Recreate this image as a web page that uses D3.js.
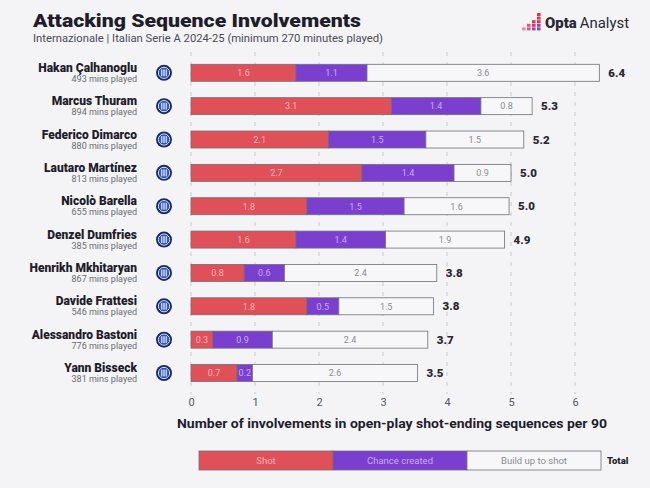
<!DOCTYPE html>
<html>
<head>
<meta charset="utf-8">
<script src="https://cdn.jsdelivr.net/npm/d3@7"></script>
<style>
  body { margin: 0; background: #f4f4f6; }
  svg { display: block; }
</style>
</head>
<body>
<svg id="chart" width="650" height="488"></svg>
<script>
// data
var players = ["Hakan Çalhanoglu", "Marcus Thuram", "Federico Dimarco", "Lautaro Martínez", "Nicolò Barella",
  "Denzel Dumfries", "Henrikh Mkhitaryan", "Davide Frattesi", "Alessandro Bastoni", "Yann Bisseck"];
var minutes = [493, 894, 880, 813, 655, 385, 867, 546, 776, 381];
var shot = [1.64, 3.13, 2.15, 2.67, 1.81, 1.64, 0.83, 1.81, 0.34, 0.72];
var chance = [1.11, 1.40, 1.52, 1.44, 1.52, 1.40, 0.63, 0.50, 0.93, 0.24];
var buildup = [3.63, 0.80, 1.53, 0.89, 1.64, 1.86, 2.38, 1.48, 2.43, 2.58];
var ticks = [0, 1, 2, 3, 4, 5, 6];
var legendLabels = ["Shot", "Chance created", "Build up to shot"];

var colors = { shot: "#e05059", chance: "#7a3fcf", build: "#f7f7f9" };
var textColors = { shot: "#f6b3b8", chance: "#c7adf0", build: "#8a8a92" };
var keys = ["shot", "chance", "build"];

var svg = d3.select("#chart");
var font = "Roboto, 'Noto Sans', sans-serif";

var x = d3.scaleLinear().domain([0, 6]).range([191, 575]);
var y = d3.scalePoint().domain(players).range([72.8, 373]);
var barH = 17;

var rows = players.map(function(p, i) {
  return { name: p, mins: minutes[i], shot: shot[i], chance: chance[i], build: buildup[i] };
});
var stacked = d3.stack().keys(keys)(rows);

// title
svg.append("text").attr("x", 33).attr("y", 26.5)
  .attr("font-family", font).attr("font-weight", 900).attr("font-size", 18.5)
  .attr("fill", "#1f1d2b").attr("textLength", 328).attr("lengthAdjust", "spacingAndGlyphs")
  .text("Attacking Sequence Involvements");
svg.append("text").attr("x", 33).attr("y", 41.5)
  .attr("font-family", font).attr("font-size", 11)
  .attr("fill", "#4a4a55").attr("textLength", 350).attr("lengthAdjust", "spacingAndGlyphs")
  .text("Internazionale | Italian Serie A 2024-25 (minimum 270 minutes played)");

// opta logo
var logo = svg.append("g").attr("transform", "translate(522,13)");
var pix = [[3, 0, "#e8334a"], [3, 1, "#e8334a"], [2, 2, "#e8334a"], [3, 2, "#d9346a"],
  [1, 3, "#e85a6a"], [2, 3, "#c83a85"], [3, 3, "#b03c9c"], [0, 4, "#f08a95"], [1, 4, "#d05a90"],
  [2, 4, "#a04ab0"], [3, 4, "#8a45c0"]];
pix.forEach(function(p) {
  logo.append("rect").attr("x", p[0] * 5).attr("y", p[1] * 3.6).attr("width", 3.6).attr("height", 3).attr("fill", p[2]);
});
svg.append("text").attr("x", 545).attr("y", 28).attr("font-family", font).attr("font-size", 14.5)
  .attr("fill", "#2a2833").attr("textLength", 84).attr("lengthAdjust", "spacingAndGlyphs")
  .call(function(t) {
    t.append("tspan").attr("font-weight", 900).text("Opta");
    t.append("tspan").attr("font-weight", 400).attr("dx", 3).text("Analyst");
  });

// gridlines
svg.append("g").selectAll("line").data(ticks).join("line")
  .attr("x1", function(d) { return x(d); }).attr("x2", function(d) { return x(d); })
  .attr("y1", 52).attr("y2", 394)
  .attr("stroke", "#c9c9cf").attr("stroke-width", 1).attr("stroke-dasharray", "4,6");

// x axis
var axis = svg.append("g").attr("transform", "translate(0,394)")
  .call(d3.axisBottom(x).tickValues(ticks).tickSize(0).tickPadding(4).tickFormat(d3.format("d")));
axis.select(".domain").remove();
axis.selectAll("text").attr("font-family", font).attr("font-size", 11).attr("fill", "#55555e");

svg.append("text").attr("x", 392).attr("y", 428).attr("text-anchor", "middle")
  .attr("font-family", font).attr("font-weight", 700).attr("font-size", 13)
  .attr("fill", "#1f1d2b").attr("textLength", 430).attr("lengthAdjust", "spacingAndGlyphs")
  .text("Number of involvements in open-play shot-ending sequences per 90");

// player labels
var lab = svg.append("g").selectAll("g").data(rows).join("g")
  .attr("transform", function(d) { return "translate(0," + y(d.name) + ")"; });
lab.append("text").attr("x", 137).attr("y", -1).attr("text-anchor", "end")
  .attr("font-family", font).attr("font-weight", 900).attr("font-size", 12).attr("fill", "#1f1d2b")
  .text(function(d) { return d.name; });
lab.append("text").attr("x", 137).attr("y", 9).attr("text-anchor", "end")
  .attr("font-family", font).attr("font-size", 9).attr("fill", "#6a6a72")
  .text(function(d) { return d.mins + " mins played"; });

// club badge
var badge = lab.append("g").attr("transform", "translate(164,0)");
badge.append("circle").attr("r", 8).attr("fill", "#1a2a6c");
badge.append("circle").attr("r", 5.6).attr("fill", "none").attr("stroke", "#ffffff").attr("stroke-width", 0.9);
badge.append("circle").attr("r", 4.8).attr("fill", "#2f5bd0");
[-2.4, -0.8, 0.8, 2.4].forEach(function(dx) {
  badge.append("line").attr("x1", dx).attr("x2", dx).attr("y1", -3.4).attr("y2", 3.4)
    .attr("stroke", "#ffffff").attr("stroke-width", 0.8);
});

// bars
var seg = svg.append("g").selectAll("g").data(stacked).join("g")
  .attr("fill", function(s) { return colors[s.key]; });
seg.selectAll("rect").data(function(s) { return s.map(function(d) { d.key = s.key; return d; }); }).join("rect")
  .attr("x", function(d) { return x(d[0]); })
  .attr("y", function(d) { return y(d.data.name) - barH / 2; })
  .attr("width", function(d) { return x(d[1]) - x(d[0]); })
  .attr("height", barH)
  .attr("stroke", "#6f6f78").attr("stroke-width", 0.8);

seg.selectAll("text").data(function(s) { return s; }).join("text")
  .attr("x", function(d) { return (x(d[0]) + x(d[1])) / 2; })
  .attr("y", function(d) { return y(d.data.name) + 3.3; })
  .attr("text-anchor", "middle").attr("font-family", font).attr("font-size", 9)
  .attr("fill", function(d) { return textColors[d.key]; })
  .text(function(d) { return (d[1] - d[0]).toFixed(1); });

// totals
svg.append("g").selectAll("text").data(rows).join("text")
  .attr("x", function(d) { return x(d.shot + d.chance + d.build) + 9; })
  .attr("y", function(d) { return y(d.name) + 4; })
  .attr("font-family", font).attr("font-weight", 900).attr("font-size", 11.5).attr("fill", "#2a2833")
  .text(function(d) { return (d.shot + d.chance + d.build).toFixed(1); });

// legend
var lx = d3.scaleBand().domain(keys).range([199, 601]);
var leg = svg.append("g").selectAll("g").data(keys).join("g");
leg.append("rect").attr("x", function(k) { return lx(k); }).attr("y", 451)
  .attr("width", lx.bandwidth()).attr("height", 19)
  .attr("fill", function(k) { return colors[k]; }).attr("stroke", "#6f6f78").attr("stroke-width", 0.8);
leg.append("text").attr("x", function(k) { return lx(k) + lx.bandwidth() / 2; }).attr("y", 464)
  .attr("text-anchor", "middle").attr("font-family", font).attr("font-size", 9.5)
  .attr("fill", function(k) { return textColors[k]; })
  .text(function(k, i) { return legendLabels[i]; });
svg.append("text").attr("x", 607).attr("y", 464).attr("font-family", font).attr("font-weight", 900)
  .attr("font-size", 9.5).attr("fill", "#1f1d2b").text("Total");
</script>
</body>
</html>
